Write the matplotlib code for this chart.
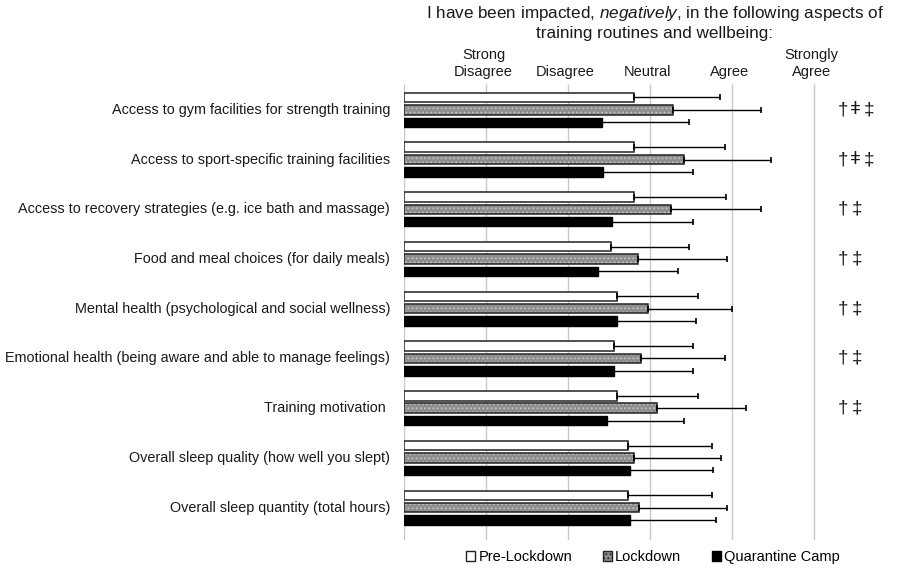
import matplotlib
matplotlib.use("Agg")
import matplotlib.pyplot as plt
import numpy as np
from matplotlib.patches import Patch

plt.rcParams['font.family'] = ['Liberation Sans', 'DejaVu Sans']
plt.rcParams['mathtext.fontset'] = 'custom'
plt.rcParams['mathtext.rm'] = 'Liberation Sans'
plt.rcParams['mathtext.it'] = 'Liberation Sans:italic'
plt.rcParams['hatch.linewidth'] = 0.8

categories = [
    "Access to gym facilities for strength training",
    "Access to sport-specific training facilities",
    "Access to recovery strategies (e.g. ice bath and massage)",
    "Food and meal choices (for daily meals)",
    "Mental health (psychological and social wellness)",
    "Emotional health (being aware and able to manage feelings)",
    "Training motivation ",
    "Overall sleep quality (how well you slept)",
    "Overall sleep quantity (total hours)",
]
series_names = ["Pre-Lockdown", "Lockdown", "Quarantine Camp"]
pre_mean = [2.80, 2.80, 2.80, 2.52, 2.60, 2.56, 2.60, 2.73, 2.73]
pre_sd = [1.05, 1.12, 1.13, 0.96, 0.98, 0.97, 0.99, 1.02, 1.02]
lock_mean = [3.28, 3.41, 3.26, 2.85, 2.97, 2.89, 3.09, 2.81, 2.87]
lock_sd = [1.07, 1.07, 1.09, 1.09, 1.03, 1.02, 1.08, 1.05, 1.07]
quar_mean = [2.42, 2.43, 2.54, 2.36, 2.60, 2.56, 2.47, 2.75, 2.76]
quar_sd = [1.05, 1.09, 0.99, 0.98, 0.96, 0.97, 0.95, 1.02, 1.05]
scale_labels = ["Strong\nDisagree", "Disagree", "Neutral", "Agree", "Strongly\nAgree"]
scale_values = [1, 2, 3, 4, 5]
signif = [["\u2020", "\u01c2", "\u2021"], ["\u2020", "\u01c2", "\u2021"],
          ["\u2020", "\u2021"], ["\u2020", "\u2021"], ["\u2020", "\u2021"],
          ["\u2020", "\u2021"], ["\u2020", "\u2021"], [], []]

fig = plt.figure(figsize=(8.98, 5.69), dpi=100)
ax = fig.add_axes([404/898, 1-540/569, 492/898, (540-84)/569])

n = len(categories)
y = np.arange(n)
h = 0.19
off = 0.25
zeros = [0]*n

ax.vlines([0, 1, 2, 3, 4, 5], -0.52, n - 1 + 0.65, colors='#c8c8c8', lw=1, zorder=0)

ekw = dict(ecolor='black', elinewidth=1, capsize=2.2, capthick=1.2)
ax.barh(y - off, pre_mean, height=h, color='white', edgecolor='#222222', lw=1.1,
        xerr=[zeros, pre_sd], error_kw=ekw, zorder=2)
ax.barh(y, lock_mean, height=h, color='#8e8e8e', edgecolor='#c4c4c4', lw=0,
        hatch='....', zorder=2)
ax.barh(y, lock_mean, height=h, fill=False, edgecolor='#222222', lw=1.1,
        xerr=[zeros, lock_sd], error_kw=ekw, zorder=3)
ax.barh(y + off, quar_mean, height=h, color='black', edgecolor='black', lw=1,
        xerr=[zeros, quar_sd], error_kw=ekw, zorder=2)

ax.set_xlim(0, 6)
ax.set_ylim(n - 1 + 0.65, -0.52)
for s in ax.spines.values():
    s.set_visible(False)
ax.set_xticks([])
ax.set_yticks([])

for yi, c in zip(y, categories):
    ax.text(-0.17, yi, c, ha='right', va='center', fontsize=10.4, color='#1a1a1a')

for yi, syms in zip(y, signif):
    if len(syms) == 3:
        xs = [5.354, 5.505, 5.665]
    else:
        xs = [5.354, 5.524]
    for xv, s in zip(xs, syms):
        ax.text(xv, yi, s, ha='center', va='center', fontsize=13.5, color='#1a1a1a',
                clip_on=False)

for v, lab in zip(scale_values, scale_labels):
    ax.text(v - 0.03, -0.63, lab, ha='center', va='bottom', fontsize=10.5,
            color='#1a1a1a', linespacing=1.2, clip_on=False)

fig.text(655/898, 1-4/569,
         "I have been impacted, $\\mathit{negatively}$, in the following aspects of\ntraining routines and wellbeing:",
         ha='center', va='top', fontsize=12.3, color='#1a1a1a', linespacing=1.25)

handles = [
    Patch(facecolor='white', edgecolor='#222222', lw=1),
    Patch(facecolor='#8e8e8e', edgecolor='#222222', lw=1, hatch='....'),
    Patch(facecolor='black', edgecolor='black', lw=1),
]
fig.legend(handles, series_names, loc='center', bbox_to_anchor=(653/898, 1-557/569),
           ncol=3, frameon=False, fontsize=10.5, handlelength=0.65, handleheight=0.65,
           handletextpad=0.2, columnspacing=2.1)

fig.savefig("out.png", dpi=100, facecolor='white')
